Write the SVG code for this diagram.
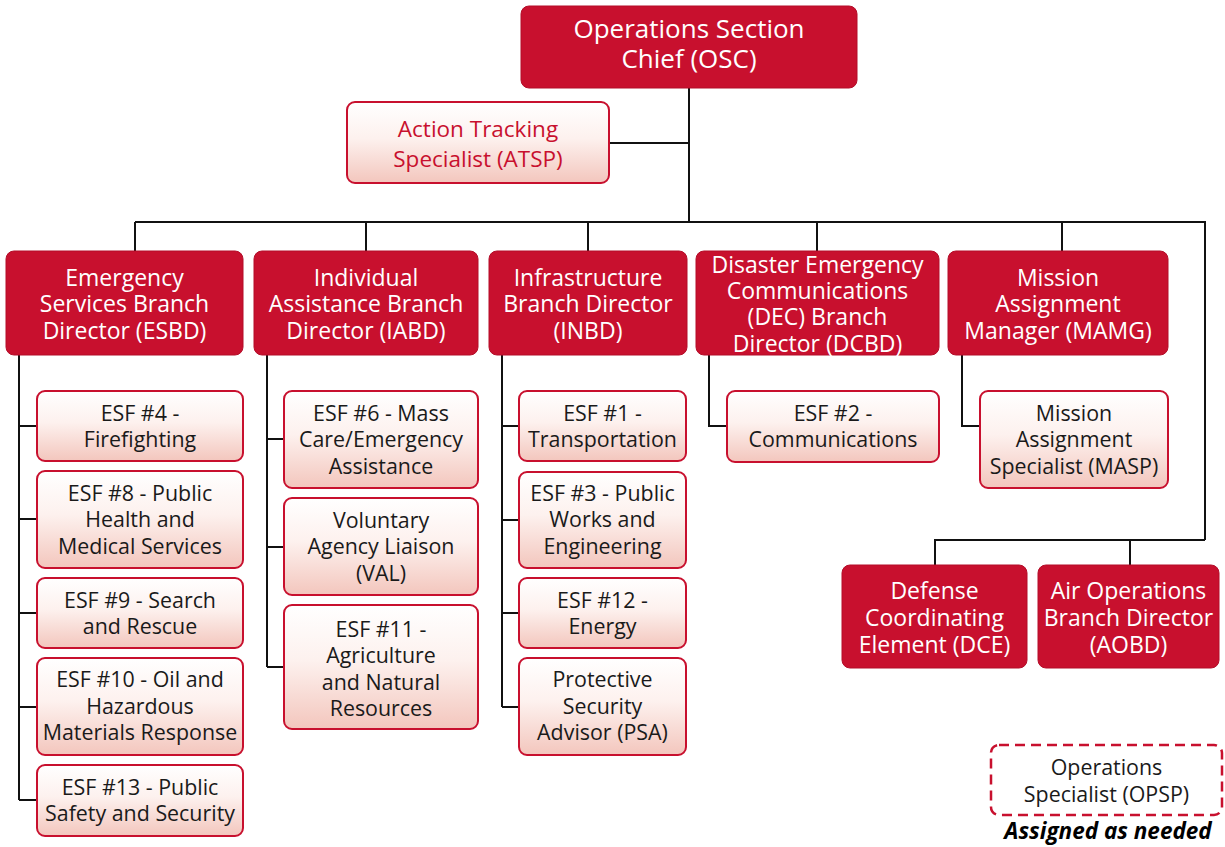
<svg xmlns="http://www.w3.org/2000/svg" width="1225" height="847" viewBox="0 0 1225 847">
  <defs>
    <linearGradient id="soft" x1="0" y1="0" x2="0" y2="1">
      <stop offset="0" stop-color="#ffffff"/>
      <stop offset="0.45" stop-color="#fdf1ee"/>
      <stop offset="1" stop-color="#f3c6bd"/>
    </linearGradient>
    <style>
      .dark rect { fill: #c8102e; stroke: #b40d29; stroke-width: 1; }
      .dark text { fill: #ffffff; font-size: 23px; font-weight: 500; }
      .lite rect { fill: url(#soft); stroke: #c8102e; stroke-width: 2; }
      .lite text { fill: #1a1a1a; font-size: 21.4px; }
      text { font-family: "Open Sans", "Noto Sans", "Liberation Sans", sans-serif; text-anchor: middle; dominant-baseline: central; }
      .wires path { fill: none; stroke: #111111; stroke-width: 2; }
    </style>
  </defs>
  <rect width="1225" height="847" fill="#ffffff"/>

  <!-- connectors -->
  <g class="wires">
    <path d="M689 88 V222"/>
    <path d="M609 143 H689"/>
    <path d="M135 222 H1205 V540"/>
    <path d="M135 222 V251 M366 222 V251 M588 222 V251 M817 222 V251 M1062 222 V251"/>
    <path d="M935 565 V540 H1205 M1130 540 V565"/>
    <path d="M19 355 V800 M19 426 H37 M19 519 H37 M19 613 H37 M19 707 H37 M19 800 H37"/>
    <path d="M267 355 V667 M267 439 H284 M267 547 H284 M267 667 H284"/>
    <path d="M502 355 V707 M502 426 H519 M502 520 H519 M502 613 H519 M502 707 H519"/>
    <path d="M709 355 V426 H727"/>
    <path d="M962 355 V426 H980"/>
  </g>

  <!-- section chief -->
  <g id="osc" class="dark">
    <rect x="521" y="6" width="336" height="82" rx="8"/>
    <text style="font-size:26px"><tspan x="689" y="28">Operations Section</tspan><tspan x="689" y="58">Chief (OSC)</tspan></text>
  </g>

  <g id="atsp" class="lite">
    <rect x="347" y="102" width="262" height="81" rx="8"/>
    <text style="fill:#c8102e;font-size:22.5px;font-weight:500"><tspan x="478" y="128">Action Tracking</tspan><tspan x="478" y="158">Specialist (ATSP)</tspan></text>
  </g>

  <!-- branches -->
  <g id="esbd" class="dark">
    <rect x="6" y="251" width="237" height="104" rx="8"/>
    <text><tspan x="124.5" y="277">Emergency</tspan><tspan x="124.5" y="303">Services Branch</tspan><tspan x="124.5" y="330">Director (ESBD)</tspan></text>
  </g>
  <g id="iabd" class="dark">
    <rect x="254" y="251" width="224" height="104" rx="8"/>
    <text><tspan x="366" y="277">Individual</tspan><tspan x="366" y="303">Assistance Branch</tspan><tspan x="366" y="330">Director (IABD)</tspan></text>
  </g>
  <g id="inbd" class="dark">
    <rect x="489" y="251" width="198" height="104" rx="8"/>
    <text><tspan x="588" y="277">Infrastructure</tspan><tspan x="588" y="303">Branch Director</tspan><tspan x="588" y="330">(INBD)</tspan></text>
  </g>
  <g id="dcbd" class="dark">
    <rect x="696" y="251" width="243" height="104" rx="8"/>
    <text><tspan x="817.5" y="264">Disaster Emergency</tspan><tspan x="817.5" y="290">Communications</tspan><tspan x="817.5" y="316">(DEC) Branch</tspan><tspan x="817.5" y="343">Director (DCBD)</tspan></text>
  </g>
  <g id="mamg" class="dark">
    <rect x="948" y="251" width="220" height="104" rx="8"/>
    <text><tspan x="1058" y="277">Mission</tspan><tspan x="1058" y="303">Assignment</tspan><tspan x="1058" y="330">Manager (MAMG)</tspan></text>
  </g>
  <g id="dce" class="dark">
    <rect x="842" y="565" width="185" height="103" rx="8"/>
    <text><tspan x="934.5" y="590">Defense</tspan><tspan x="934.5" y="617">Coordinating</tspan><tspan x="934.5" y="644">Element (DCE)</tspan></text>
  </g>
  <g id="aobd" class="dark">
    <rect x="1038" y="565" width="181" height="103" rx="8"/>
    <text><tspan x="1128.5" y="590">Air Operations</tspan><tspan x="1128.5" y="617">Branch Director</tspan><tspan x="1128.5" y="644">(AOBD)</tspan></text>
  </g>

  <!-- emergency services units -->
  <g id="esf4" class="lite">
    <rect x="37" y="391" width="206" height="70" rx="8"/>
    <text><tspan x="140" y="412">ESF #4 -</tspan><tspan x="140" y="438">Firefighting</tspan></text>
  </g>
  <g id="esf8" class="lite">
    <rect x="37" y="471" width="206" height="97" rx="8"/>
    <text><tspan x="140" y="492">ESF #8 - Public</tspan><tspan x="140" y="518">Health and</tspan><tspan x="140" y="545">Medical Services</tspan></text>
  </g>
  <g id="esf9" class="lite">
    <rect x="37" y="578" width="206" height="70" rx="8"/>
    <text><tspan x="140" y="599">ESF #9 - Search</tspan><tspan x="140" y="625">and Rescue</tspan></text>
  </g>
  <g id="esf10" class="lite">
    <rect x="37" y="658" width="206" height="97" rx="8"/>
    <text><tspan x="140" y="678">ESF #10 - Oil and</tspan><tspan x="140" y="705">Hazardous</tspan><tspan x="140" y="731">Materials Response</tspan></text>
  </g>
  <g id="esf13" class="lite">
    <rect x="37" y="765" width="206" height="71" rx="8"/>
    <text><tspan x="140" y="786">ESF #13 - Public</tspan><tspan x="140" y="812">Safety and Security</tspan></text>
  </g>

  <!-- individual assistance units -->
  <g id="esf6" class="lite">
    <rect x="284" y="391" width="194" height="97" rx="8"/>
    <text><tspan x="381" y="412">ESF #6 - Mass</tspan><tspan x="381" y="438">Care/Emergency</tspan><tspan x="381" y="465">Assistance</tspan></text>
  </g>
  <g id="val" class="lite">
    <rect x="284" y="498" width="194" height="97" rx="8"/>
    <text><tspan x="381" y="519">Voluntary</tspan><tspan x="381" y="545">Agency Liaison</tspan><tspan x="381" y="572">(VAL)</tspan></text>
  </g>
  <g id="esf11" class="lite">
    <rect x="284" y="605" width="194" height="124" rx="8"/>
    <text><tspan x="381" y="628">ESF #11 -</tspan><tspan x="381" y="654">Agriculture</tspan><tspan x="381" y="681">and Natural</tspan><tspan x="381" y="707">Resources</tspan></text>
  </g>

  <!-- infrastructure units -->
  <g id="esf1" class="lite">
    <rect x="519" y="391" width="167" height="70" rx="8"/>
    <text><tspan x="602.5" y="412">ESF #1 -</tspan><tspan x="602.5" y="438">Transportation</tspan></text>
  </g>
  <g id="esf3" class="lite">
    <rect x="519" y="472" width="167" height="96" rx="8"/>
    <text><tspan x="602.5" y="492">ESF #3 - Public</tspan><tspan x="602.5" y="518">Works and</tspan><tspan x="602.5" y="545">Engineering</tspan></text>
  </g>
  <g id="esf12" class="lite">
    <rect x="519" y="578" width="167" height="70" rx="8"/>
    <text><tspan x="602.5" y="599">ESF #12 -</tspan><tspan x="602.5" y="625">Energy</tspan></text>
  </g>
  <g id="psa" class="lite">
    <rect x="519" y="658" width="167" height="97" rx="8"/>
    <text><tspan x="602.5" y="678">Protective</tspan><tspan x="602.5" y="705">Security</tspan><tspan x="602.5" y="731">Advisor (PSA)</tspan></text>
  </g>

  <!-- communications and mission assignment units -->
  <g id="esf2" class="lite">
    <rect x="727" y="391" width="212" height="71" rx="8"/>
    <text><tspan x="833" y="412">ESF #2 -</tspan><tspan x="833" y="438">Communications</tspan></text>
  </g>
  <g id="masp" class="lite">
    <rect x="980" y="391" width="188" height="97" rx="8"/>
    <text><tspan x="1074" y="412">Mission</tspan><tspan x="1074" y="438">Assignment</tspan><tspan x="1074" y="465">Specialist (MASP)</tspan></text>
  </g>

  <!-- on-call specialist -->
  <g id="opsp">
    <rect x="991" y="745" width="231" height="70" rx="8" fill="#ffffff" stroke="#c8102e" stroke-width="2.5" stroke-dasharray="10 6"/>
    <text style="fill:#1a1a1a;font-size:21.4px"><tspan x="1106.5" y="766">Operations</tspan><tspan x="1106.5" y="793">Specialist (OPSP)</tspan></text>
    <text x="1108" y="830" style="fill:#000000;font-size:22.5px;font-weight:bold;font-style:italic">Assigned as needed</text>
  </g>
</svg>
